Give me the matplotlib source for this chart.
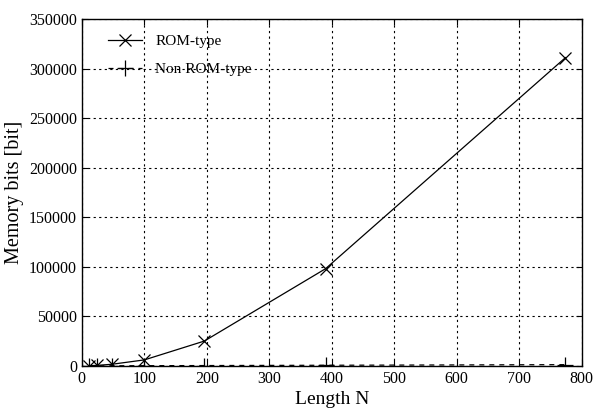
import matplotlib
matplotlib.use("Agg")
import matplotlib.pyplot as plt

plt.rcParams['font.family'] = ['Liberation Serif', 'DejaVu Serif']
plt.rcParams['mathtext.fontset'] = 'stix'

N = [12, 24, 48, 100, 196, 390, 774]
rom_bits = [150, 500, 1600, 6000, 25000, 98000, 311000]
nonrom_bits = [20, 40, 80, 160, 300, 600, 1200]

xticks = [0, 100, 200, 300, 400, 500, 600, 700, 800]
yticks = [0, 50000, 100000, 150000, 200000, 250000, 300000, 350000]

fig = plt.figure(figsize=(5.93, 4.12), dpi=100)
ax = fig.add_axes([0.138, 0.112, 0.843, 0.842])

ax.plot(N, rom_bits, color='black', lw=0.9, marker='x', ms=9, mew=0.9, label='ROM-type')
ax.plot(N, nonrom_bits, color='black', lw=0.9, ls=(0, (4, 4)), marker='+', ms=11, mew=0.9, label='Non ROM-type')

ax.set_xlim(0, 800)
ax.set_ylim(0, 350000)
ax.set_xticks(xticks)
ax.set_yticks(yticks)
ax.tick_params(direction='in', top=True, right=True, labelsize=11.5, length=4, width=0.8)
ax.grid(True, color='black', ls=(0, (2, 3)), lw=0.8)
for s in ax.spines.values():
    s.set_linewidth(1.0)

ax.set_xlabel('Length N', fontsize=14, labelpad=3)
ax.set_ylabel('Memory bits [bit]', fontsize=14.5, labelpad=3.5)

ax.legend(loc='upper left', frameon=False, fontsize=11, handlelength=2.2,
          bbox_to_anchor=(0.025, 0.995), labelspacing=0.95, handletextpad=0.9)

fig.savefig('out.png', dpi=100)
